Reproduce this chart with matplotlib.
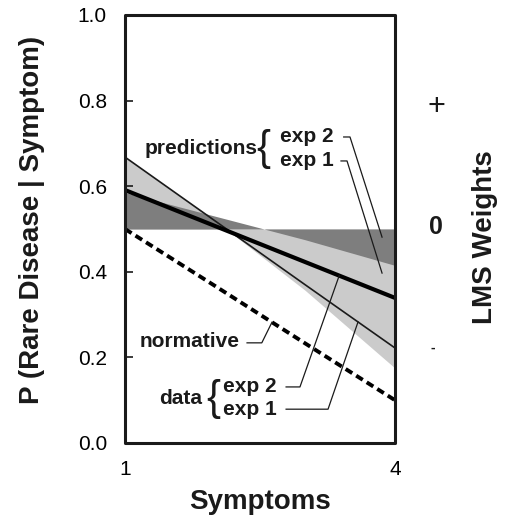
import numpy as np
import matplotlib
matplotlib.use("Agg")
import matplotlib.pyplot as plt
from matplotlib.patches import Rectangle

plt.rcParams['font.family'] = ['Liberation Sans', 'DejaVu Sans']

# ---- data ----
symptoms = [1, 2, 3, 4]
normative = [0.50, 0.367, 0.233, 0.10]
data_exp1 = [0.668, 0.519, 0.370, 0.222]
data_exp2 = [0.591, 0.507, 0.423, 0.339]
pred_exp1 = [0.668, 0.52, 0.357, 0.175]
pred_exp2 = [0.585, 0.53, 0.475, 0.415]
baseline = 0.5
yticks = [0.0, 0.2, 0.4, 0.6, 0.8, 1.0]
yticklabels = ["0.0", "0.2", "0.4", "0.6", "0.8", "1.0"]
xticks = [1, 4]
xticklabels = ["1", "4"]
lms_labels = ["+", "0", "-"]
lms_levels = [0.785, 0.505, 0.222]

W, H = 506, 519
fig = plt.figure(figsize=(W / 100, H / 100), dpi=100)
ax = fig.add_axes([125 / W, (H - 443) / H, 270 / W, 428 / H])
ax.set_xlim(1, 4)
ax.set_ylim(0, 1)

light = '#cbcbcb'
dark = '#7e7e7e'
x = np.array(symptoms, dtype=float)
ax.fill_between(x, baseline, pred_exp1, color=light, lw=0, zorder=1)
ax.fill_between(x, baseline, pred_exp2, color=dark, lw=0, zorder=2)

ax.plot(x, data_exp1, color='#1a1a1a', lw=1.2, zorder=4, solid_capstyle='butt')
ax.plot(x, data_exp2, color='black', lw=3.0, zorder=5, solid_capstyle='butt')
ax.plot(x, normative, color='black', lw=2.8, dashes=(2.0, 1.2), zorder=4)

# spines / frame with rounded corners
for s in ax.spines.values():
    s.set_visible(False)
ax.add_patch(Rectangle((0, 0), 1, 1, transform=ax.transAxes, fill=False,
                       lw=2.2, ec='#1a1a1a', joinstyle='round', clip_on=False, zorder=10))

ax.set_yticks(yticks)
ax.set_yticklabels(yticklabels, fontsize=15)
ax.set_xticks(xticks)
ax.set_xticklabels(xticklabels, fontsize=15)
ax.tick_params(axis='y', direction='in', length=6, width=1.2, pad=13, color='#1a1a1a')
ax.tick_params(axis='x', direction='in', length=0, pad=12)

fs_ann = 15
tk = dict(fontsize=fs_ann, fontweight='bold', color='#1a1a1a')
lk = dict(color='#1a1a1a', lw=0.9, zorder=6, solid_joinstyle='round')

# predictions annotation
ax.text(2.47, 0.689, "predictions", ha='right', va='center', **tk)
ax.text(2.535, 0.688, "{", ha='center', va='center', fontsize=30, color='#1a1a1a')
ax.text(2.72, 0.715, "exp 2", ha='left', va='center', **tk)
ax.text(2.72, 0.661, "exp 1", ha='left', va='center', **tk)
ax.plot([3.43, 3.50, 3.856], [0.715, 0.715, 0.481], **lk)
ax.plot([3.40, 3.467, 3.856], [0.659, 0.659, 0.397], **lk)

# normative annotation
ax.text(2.278, 0.236, "normative", ha='right', va='center', **tk)
xn = 2.633
ax.plot([2.356, 2.52, xn], [0.234, 0.234, np.interp(xn, x, normative)], **lk)

# data annotation
ax.text(1.856, 0.105, "data", ha='right', va='center', **tk)
ax.text(1.978, 0.103, "{", ha='center', va='center', fontsize=30, color='#1a1a1a')
ax.text(2.089, 0.131, "exp 2", ha='left', va='center', **tk)
ax.text(2.089, 0.079, "exp 1", ha='left', va='center', **tk)
x2 = 3.38
ax.plot([2.79, 2.944, x2], [0.131, 0.131, np.interp(x2, x, data_exp2)], **lk)
x1 = 3.589
ax.plot([2.79, 3.256, x1], [0.079, 0.079, np.interp(x1, x, data_exp1)], **lk)

# right-side LMS weights
tr = ax.get_yaxis_transform()
ax.text(1.155, lms_levels[0], lms_labels[0], transform=tr, ha='center', va='center',
        fontsize=22, color='#1a1a1a')
ax.text(1.15, lms_levels[1], lms_labels[1], transform=tr, ha='center', va='center',
        fontsize=18, fontweight='bold', color='#1a1a1a')
ax.text(1.14, lms_levels[2], lms_labels[2], transform=tr, ha='center', va='center',
        fontsize=10, fontweight='bold', color='#1a1a1a')
ax.text(1.333, 0.481, "LMS Weights", transform=tr, rotation=90, ha='center', va='center',
        fontsize=20, fontweight='bold', color='#1a1a1a')

# axis labels
fig.text(32 / W, 1 - 220 / H, "P (Rare Disease | Symptom)", rotation=90,
         ha='center', va='center', fontsize=20, fontweight='bold', color='#1a1a1a')
fig.text(260 / W, 1 - 502 / H, "Symptoms", ha='center', va='center',
         fontsize=20, fontweight='bold', color='#1a1a1a')

fig.savefig("out.png", dpi=100)
